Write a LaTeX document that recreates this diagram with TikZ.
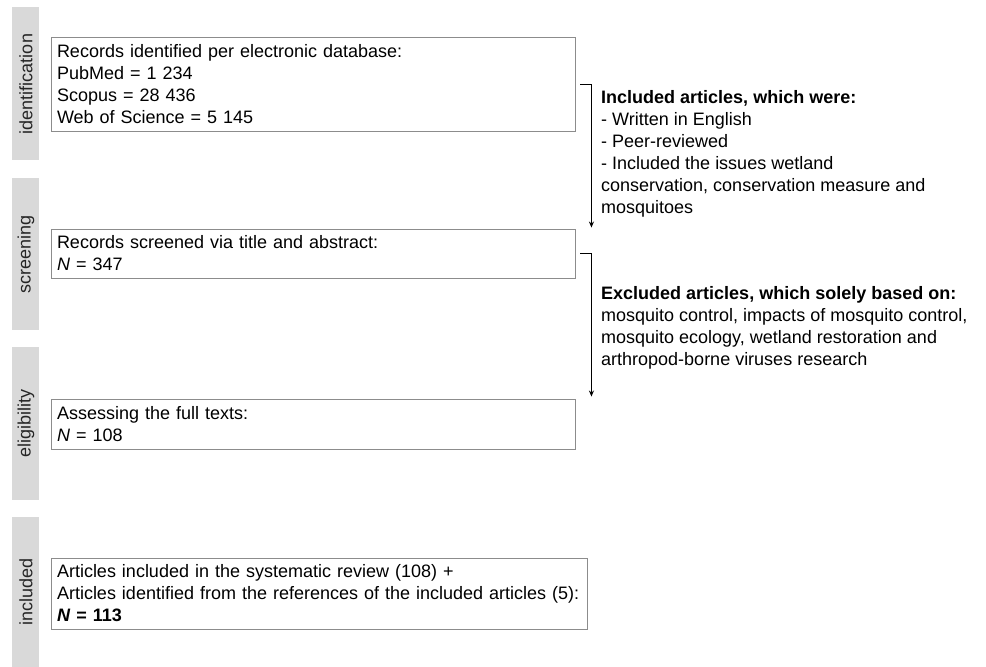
\documentclass[tikz,border=0pt]{standalone}
\usepackage{fontspec}
\setmainfont{Liberation Sans}
\usetikzlibrary{arrows.meta,calc}
\begin{document}
\begin{tikzpicture}[x=1pt,y=-1pt,
  phasebar/.style={fill=black!15, draw=none},
  phaselbl/.style={rotate=90, inner sep=0pt, text=black!85, font=\fontsize{18}{22}\selectfont},
  box/.style={draw=black!45, line width=0.9pt, align=left, inner xsep=6pt, inner ysep=0pt,
    font=\fontsize{18}{22}\selectfont, anchor=center},
  conn/.style={line width=1.1pt, -{Stealth[length=6pt,width=5pt]}},
  note/.style={align=left, anchor=north west, inner sep=0pt, font=\fontsize{18}{22}\selectfont}]
\useasboundingbox (0,0) rectangle (986,667);

% phase bars
\fill[phasebar] (11.5,7) rectangle (38.5,160);
\fill[phasebar] (11.5,178) rectangle (38.5,330);
\fill[phasebar] (11.5,347) rectangle (38.5,500);
\fill[phasebar] (11.5,517) rectangle (38.5,667);
\node[phaselbl] (lid) at (26,84) {identification};
\node[phaselbl] (lsc) at (26,254) {screening};
\node[phaselbl] (lel) at (26,423.5) {eligibility};
\node[phaselbl] (lin) at (26,592) {included};

% boxes
\node[box, text width=512pt, minimum height=94pt] (box1) at (313,84)
  {Records identified per electronic database:\\PubMed = 1 234\\Scopus = 28 436\\Web of Science = 5 145};
\node[box, text width=512pt, minimum height=49pt] (box2) at (313,253.5)
  {Records screened via title and abstract:\\\textit{N} = 347};
\node[box, text width=512pt, minimum height=50pt] (box3) at (313,424)
  {Assessing the full texts:\\\textit{N} = 108};
\node[box, text width=524pt, minimum height=71pt] (box4) at (319,593.5)
  {Articles included in the systematic review (108) +\\Articles identified from the references of the included articles (5):\\\textbf{\textit{N} = 113}};

% notes
\node[note] (inc) at (601,90.6)
  {\textbf{Included articles, which were:}\\- Written in English\\- Peer-reviewed\\- Included the issues wetland\\conservation, conservation measure and\\mosquitoes};
\node[note] (exc) at (601,286.6)
  {\textbf{Excluded articles, which solely based on:}\\mosquito control, impacts of mosquito control,\\mosquito ecology, wetland restoration and\\arthropod-borne viruses research};

% connectors
\coordinate (s1) at ($(box1.east)+(5,0.5)$);
\coordinate (e1) at ($(box2.north east)+(16,-1)$);
\coordinate (s2) at ($(box2.east)+(5,0)$);
\coordinate (e2) at ($(box3.north east)+(16,-2)$);
\draw[conn] (s1) -| (e1);
\draw[conn] (s2) -| (e2);
\end{tikzpicture}
\end{document}
